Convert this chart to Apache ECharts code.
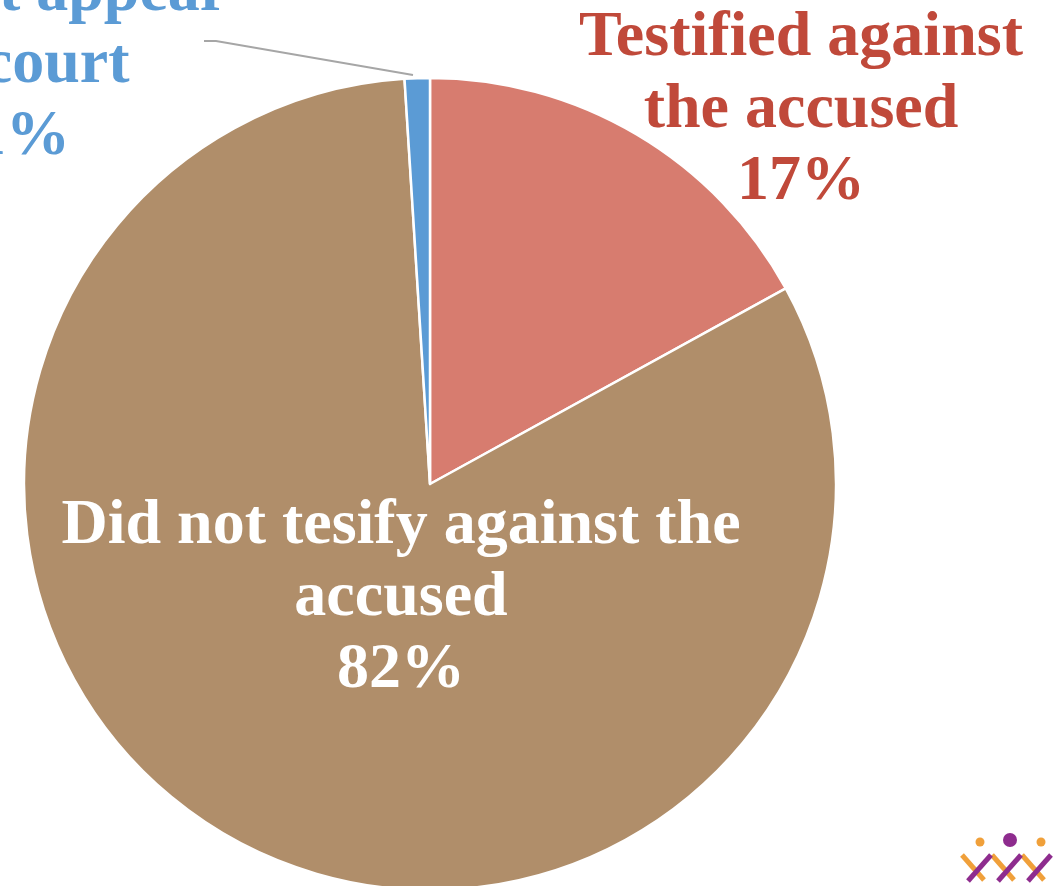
<!DOCTYPE html>
<html>
<head>
<meta charset="utf-8">
<title>Testimony against the accused</title>
<script src="https://cdn.jsdelivr.net/npm/echarts@6/dist/echarts.min.js"></script>
<style>
  html, body { margin: 0; padding: 0; background: #ffffff; }
  #chart { width: 1056px; height: 886px; }
</style>
</head>
<body>
<div id="chart"></div>
<script>
// Share of witnesses by outcome (percent)
const categories = [
  'Testified against\nthe accused',
  'Did not tesify against the\naccused',
  'Did not appear\nin court'
];
const shares = [17, 82, 1];

const sliceColors = ['#D77C6F', '#B08E6A', '#5B9BD5'];
const labelColors = ['#C0493A', '#FFFFFF', '#5B9BD5'];
// where each slice's label block is centred (px)
const labelSpots = [
  { x: 801, y: 110 },
  { x: 401, y: 598 },
  { x: 22, y: 65 }
];

const chart = echarts.init(document.getElementById('chart'), null, { renderer: 'canvas' });

const labelFont = {
  fontFamily: '"Liberation Serif", "Times New Roman", serif',
  fontWeight: 'bold',
  fontSize: 64,
  lineHeight: 72,
  align: 'center'
};

const pieData = categories.map((name, i) => ({
  name: name,
  value: shares[i],
  itemStyle: { color: sliceColors[i] },
  label: Object.assign({
    show: true,
    position: i === 1 ? 'inside' : 'outside',
    color: labelColors[i],
    formatter: '{b}\n{d}%'
  }, labelFont),
  labelLine: { show: false }
}));

// leader from the thin slice out to its label, plus the small emblem in the corner
function decorations() {
  const orange = '#F0A03A';
  const purple = '#8E2C8E';
  const seg = (a, b, color) => ({
    type: 'line', shape: { x1: a[0], y1: a[1], x2: b[0], y2: b[1] },
    style: { stroke: color, lineWidth: 5, lineCap: 'butt' }
  });
  return [
    { type: 'polyline', shape: { points: [[413, 75], [216, 41], [204, 41]] },
      style: { stroke: '#A6A6A6', lineWidth: 2, fill: null }, z: 10 },
    { type: 'circle', shape: { cx: 980, cy: 842, r: 4.5 }, style: { fill: orange } },
    { type: 'circle', shape: { cx: 1010, cy: 840, r: 7 }, style: { fill: purple } },
    { type: 'circle', shape: { cx: 1041, cy: 842, r: 4.5 }, style: { fill: orange } },
    seg([962, 855], [984, 880], orange),
    seg([992, 855], [1014, 880], orange),
    seg([1022, 855], [1044, 880], orange),
    seg([968, 881], [991, 855], purple),
    seg([998, 881], [1021, 855], purple),
    seg([1028, 881], [1051, 855], purple)
  ];
}

chart.setOption({
  backgroundColor: '#ffffff',
  animation: false,
  series: [{
    type: 'pie',
    center: [430, 484],
    radius: 406,
    startAngle: 90,
    clockwise: true,
    avoidLabelOverlap: false,
    itemStyle: { borderColor: '#ffffff', borderWidth: 2.5 },
    labelLayout: function (params) {
      const spot = labelSpots[params.dataIndex];
      return { x: spot.x, y: spot.y, align: 'center', verticalAlign: 'middle' };
    },
    data: pieData
  }],
  graphic: decorations()
});
</script>
</body>
</html>
